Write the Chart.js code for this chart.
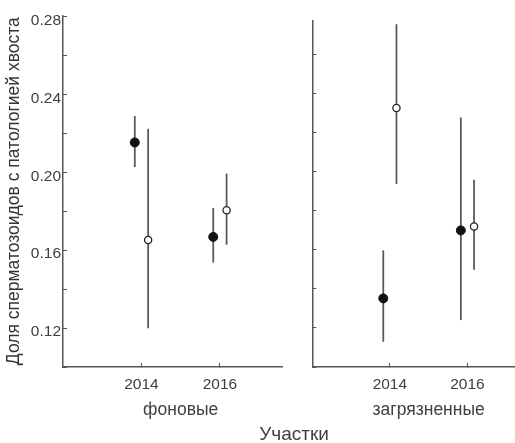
<!DOCTYPE html>
<html>
<head>
<meta charset="utf-8">
<script src="https://cdn.jsdelivr.net/npm/chart.js@4.4.1/dist/chart.umd.min.js"></script>
<style>
  html, body { margin: 0; padding: 0; overflow: hidden; background: #fff; }
  body { width: 515px; height: 443px; position: relative; font-family: "Liberation Sans", Arial, sans-serif; color: #404040; }
  .panel { position: absolute; top: 0; height: 443px; }
  .lbl { position: absolute; white-space: nowrap; transform: translate(-50%, -50%); }
</style>
</head>
<body>
<div class="panel" style="left:0;width:290px"><canvas id="bgChart"></canvas></div>
<div class="panel" style="left:290px;width:245px"><canvas id="polChart"></canvas></div>
<div class="lbl" id="bgTitle" style="top:409px;font-size:17.5px">фоновые</div>
<div class="lbl" id="polTitle" style="top:409px;font-size:17.5px">загрязненные</div>
<div class="lbl" style="left:294px;top:434px;font-size:19px">Участки</div>
<script>
const years = [2014, 2016];

// фоновые участки
const bgFilled = [0.2153, 0.1668];
const bgFilledLo = [0.2027, 0.1536];
const bgFilledHi = [0.2289, 0.1816];
const bgOpen = [0.1652, 0.1805];
const bgOpenLo = [0.1199, 0.1628];
const bgOpenHi = [0.2223, 0.1993];

// загрязненные участки
const polFilled = [0.1351, 0.1699];
const polFilledLo = [0.1129, 0.1240];
const polFilledHi = [0.1597, 0.2277];
const polOpen = [0.2325, 0.1719];
const polOpenLo = [0.1937, 0.1498];
const polOpenHi = [0.2754, 0.1958];

const yTickLabels = ['0.12', '0.16', '0.20', '0.24', '0.28'];

const DODGE = 0.17;
const GRAY = '#555';
const FONT = "'Liberation Sans', Arial, sans-serif";

function points(mean, lo, hi, shift) {
  return years.map((yr, i) => ({ x: yr + shift, y: mean[i], lo: lo[i], hi: hi[i] }));
}

const errorBars = {
  id: 'errorBars',
  beforeDatasetsDraw(chart) {
    const { ctx, scales: { x, y } } = chart;
    ctx.save();
    ctx.strokeStyle = '#5a5a5a';
    ctx.lineWidth = 1.8;
    chart.data.datasets.forEach(ds => {
      ds.data.forEach(p => {
        const px = x.getPixelForValue(p.x);
        ctx.beginPath();
        ctx.moveTo(px, y.getPixelForValue(p.lo));
        ctx.lineTo(px, y.getPixelForValue(p.hi));
        ctx.stroke();
      });
    });
    ctx.restore();
  }
};

function makeChart(id, filled, fLo, fHi, open, oLo, oHi, opts) {
  return new Chart(document.getElementById(id), {
    type: 'scatter',
    data: {
      datasets: [
        {
          data: points(filled, fLo, fHi, -DODGE),
          pointRadius: 4.5,
          pointBackgroundColor: '#111',
          pointBorderColor: '#111',
          pointBorderWidth: 1,
          clip: false
        },
        {
          data: points(open, oLo, oHi, DODGE),
          pointRadius: 3.6,
          pointBackgroundColor: '#fff',
          pointBorderColor: '#222',
          pointBorderWidth: 1.3,
          clip: false
        }
      ]
    },
    options: {
      responsive: true,
      maintainAspectRatio: false,
      animation: false,
      events: [],
      layout: { padding: opts.padding },
      plugins: { legend: { display: false }, tooltip: { enabled: false } },
      scales: {
        x: {
          type: 'linear',
          min: 2012,
          max: 2017.6,
          afterBuildTicks: s => { s.ticks = years.map(v => ({ value: v })); },
          afterFit: s => { s.height = 76; },
          grid: { drawOnChartArea: false, tickLength: -4, color: GRAY },
          border: { color: GRAY, width: 1.5 },
          ticks: {
            padding: 12,
            color: '#404040',
            font: { family: FONT, size: 15.5 },
            callback: v => String(v)
          }
        },
        y: {
          min: 0.10,
          max: opts.yMax,
          afterFit: s => { s.width = opts.yWidth; },
          grid: { drawOnChartArea: false, tickLength: -4, color: GRAY },
          border: { color: GRAY, width: 1.5 },
          ticks: {
            stepSize: 0.02,
            includeBounds: false,
            padding: 6,
            labelOffset: 4,
            color: '#404040',
            font: { family: FONT, size: 15.5 },
            callback: v => {
              const t = v.toFixed(2);
              return opts.labels && yTickLabels.includes(t) ? t : '';
            }
          },
          title: {
            display: opts.labels,
            text: 'Доля сперматозоидов с патологией хвоста',
            color: '#333',
            font: { family: FONT, size: 17.5 },
            padding: { top: 4, bottom: 0 }
          }
        }
      }
    },
    plugins: [errorBars]
  });
}

const bgChart = makeChart('bgChart', bgFilled, bgFilledLo, bgFilledHi, bgOpen, bgOpenLo, bgOpenHi,
  { padding: { top: 14, right: 7.3 }, yMax: 0.2806, yWidth: 63, labels: true });
const polChart = makeChart('polChart', polFilled, polFilledLo, polFilledHi, polOpen, polOpenLo, polOpenHi,
  { padding: { top: 20.7, right: 3.5 }, yMax: 0.2772, yWidth: 22.3, labels: false });

// group names under each panel, centred between the two years
const mid = (years[0] + years[1]) / 2;
document.getElementById('bgTitle').style.left = bgChart.scales.x.getPixelForValue(mid) + 'px';
document.getElementById('polTitle').style.left = (290 + polChart.scales.x.getPixelForValue(mid)) + 'px';
</script>
</body>
</html>
